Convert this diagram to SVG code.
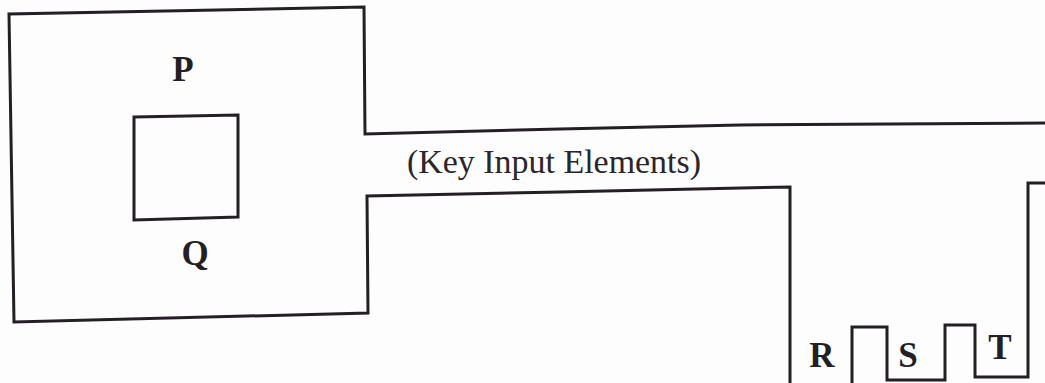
<svg xmlns="http://www.w3.org/2000/svg" width="1045" height="383" viewBox="0 0 1045 383">
  <style>
    .ln { fill: none; stroke: #231f24; stroke-width: 3; stroke-linejoin: miter; stroke-linecap: square; }
    .lbl { font-family: "Liberation Serif", "Times New Roman", serif; font-weight: bold; font-size: 35px; fill: #231f24; text-anchor: middle; }
    .cap { font-family: "Liberation Serif", "Times New Roman", serif; font-size: 33px; fill: #2a262a; }
  </style>
  <rect x="0" y="0" width="1045" height="383" fill="#fdfdfd"/>
  <g id="key-outline">
    <polyline class="ln" points="790,386 790,187 560,192 367,196 368,313 14,322 9,14 364,7 365,134 560,129 740,125 1046,123"/>
    <polyline class="ln" points="1046,183 1028,183 1028,377 975,377 975,325 945,325 945,380 887,380 887,327 852,327 852,386"/>
  </g>
  <g id="q-square">
    <polygon class="ln" points="134,117 238,115 238,217 134,220"/>
  </g>
  <g id="labels">
    <text class="lbl" x="183" y="81">P</text>
    <text class="lbl" x="195" y="265">Q</text>
    <text class="cap" x="407" y="173" textLength="294" lengthAdjust="spacingAndGlyphs">(Key Input Elements)</text>
    <text class="lbl" x="822" y="367">R</text>
    <text class="lbl" x="908" y="367">S</text>
    <text class="lbl" x="1000" y="359">T</text>
  </g>
</svg>
